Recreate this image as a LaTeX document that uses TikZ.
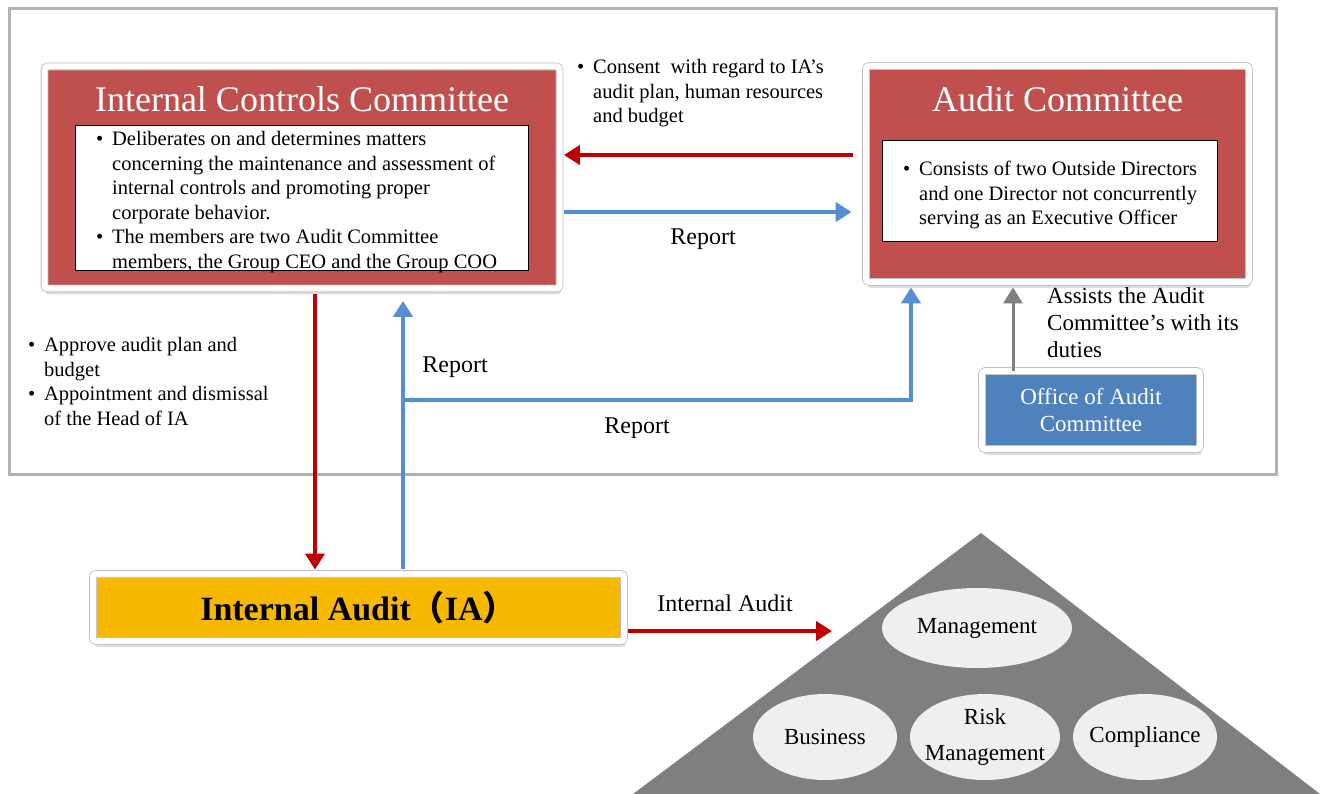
\documentclass[tikz,border=0pt]{standalone}
\usepackage{fontspec}
\setmainfont{Liberation Serif}
\newfontfamily\cjk{Noto Sans CJK SC}
\usetikzlibrary{arrows.meta,shapes.geometric,shadows}
\definecolor{boxred}{HTML}{C0504D}
\definecolor{boxblue}{HTML}{4F81BD}
\definecolor{iagold}{HTML}{F6B900}
\definecolor{linkred}{HTML}{C00000}
\definecolor{linkblue}{HTML}{558ED5}
\definecolor{pyramidgray}{HTML}{7F7F7F}
\definecolor{ovalgray}{HTML}{EFEFEF}
\newcommand\bul{\makebox[16pt][l]{\textbullet}}
\newcommand\ind{\hspace*{16pt}}

\begin{document}
\begin{tikzpicture}[x=1pt, y=-1pt,
    panel/.style={rectangle, rounded corners=3pt, draw=black!25, double=white, double distance=6pt,
      line width=0.8pt, inner sep=0pt, drop shadow={shadow xshift=1.5pt, shadow yshift=-6pt, opacity=.25}},
    infobox/.style={rectangle, draw=black, fill=white, line width=0.8pt, inner sep=0pt},
    head/.style={text=white, font=\fontsize{36}{40}\selectfont, inner sep=0pt, anchor=base},
    body/.style={font=\fontsize{20.5}{24.6}\selectfont, align=left, inner sep=0pt, anchor=north west},
    lbl/.style={font=\fontsize{24}{28}\selectfont, inner sep=0pt},
    oval/.style={ellipse, fill=ovalgray, inner sep=0pt, font=\fontsize{23}{36}\selectfont, align=center},
    link/.style={line width=4pt, -{Triangle[length=16pt, width=19pt]}}]
  \useasboundingbox (0,0) rectangle (1320,794);

  % governance frame
  \draw[black!30, line width=3pt] (9,9) rectangle (1276,474);

  % internal controls committee
  \node[panel, fill=boxred, minimum width=515pt, minimum height=222pt] (icc) at (302,177.5) {};
  \node[head] (icc title) at (302,112) {Internal Controls Committee};
  \node[infobox, minimum width=453pt, minimum height=145pt] (icc box) at (301.5,197.5) {};
  \node[body] (icc text) at (96,131) {\bul Deliberates on and determines matters\\
    \ind concerning the maintenance and assessment of\\
    \ind internal controls and promoting proper\\
    \ind corporate behavior.\\
    \bul The members are two Audit Committee\\
    \ind members, the Group CEO and the Group COO};

  % audit committee
  \node[panel, fill=boxred, minimum width=383pt, minimum height=216pt] (ac) at (1057.5,174) {};
  \node[head] (ac title) at (1057.5,112) {Audit Committee};
  \node[infobox, minimum width=335pt, minimum height=101pt] (ac box) at (1049.5,190.5) {};
  \node[body] (ac text) at (903,161) {\bul Consists of two Outside Directors\\
    \ind and one Director not concurrently\\
    \ind serving as an Executive Officer};

  % office and internal audit
  \node[panel, fill=boxblue, minimum width=218pt, minimum height=78pt, text=white, align=center,
    font=\fontsize{23}{27}\selectfont] (office) at (1091,410) {Office of Audit\\Committee};
  \node[panel, fill=iagold, minimum width=531pt, minimum height=67pt,
    font=\bfseries\fontsize{34}{40}\selectfont] (ia) at (358.5,607.5) {Internal Audit{\cjk （}IA{\cjk ）}};

  % audited areas
  \fill[pyramidgray] (633,794) -- (981,533) -- (1320,794) -- cycle;
  \node[oval, minimum width=190pt, minimum height=80pt] (mgmt) at (977,628) {Management};
  \node[oval, minimum width=144pt, minimum height=86pt] (business) at (825,737) {Business};
  \node[oval, inner xsep=-9pt, minimum width=150pt, minimum height=86pt] (risk) at (985,737) {Risk\\Management};
  \node[oval, inner xsep=-7pt, minimum width=144pt, minimum height=86pt] (compliance) at (1145,737) {Compliance};

  % connectors
  \coordinate (fork) at (403,400);
  \coordinate (pyramid edge) at (832,631);
  \draw[link, linkred, shorten <=13pt, shorten >=4pt] (ac.west |- 0,155) -- (icc.east |- 0,155);
  \draw[link, linkblue, shorten <=4pt, shorten >=14pt] (icc.east |- 0,212) -- (ac.west |- 0,212);
  \draw[link, linkred, shorten <=5pt, shorten >=4pt] (icc.south -| 315,0) -- (ia.north -| 315,0);
  \draw[link, linkblue, shorten <=5pt, shorten >=12pt] (ia.north -| 403,0) -- (icc.south -| 403,0);
  \draw[link, linkblue, shorten >=5pt] (fork) -| (ac.south -| 911,0);
  \draw[link, black!50, line width=3pt, shorten >=5pt] (office.north -| 1013,0) -- (ac.south -| 1013,0);
  \draw[link, linkred, shorten <=4pt] (ia.east |- 0,631) -- (pyramid edge);

  % labels
  \node[lbl] (report a) at (703,239) {Report};
  \node[lbl] (report b) at (455,367) {Report};
  \node[lbl] (report c) at (637,428) {Report};
  \node[lbl] (audit label) at (725,603) {Internal Audit};
  \node[body] (consent text) at (577,59) {\bul Consent\ \ with regard to IA’s\\
    \ind audit plan, human resources\\
    \ind and budget};
  \node[body] (approve text) at (28,337) {\bul Approve audit plan and\\
    \ind budget\\
    \bul Appointment and dismissal\\
    \ind of the Head of IA};
  \node[body, font=\fontsize{23}{27}\selectfont] (assist text) at (1047,287) {Assists the Audit\\
    Committee’s with its\\
    duties};
\end{tikzpicture}
\end{document}
